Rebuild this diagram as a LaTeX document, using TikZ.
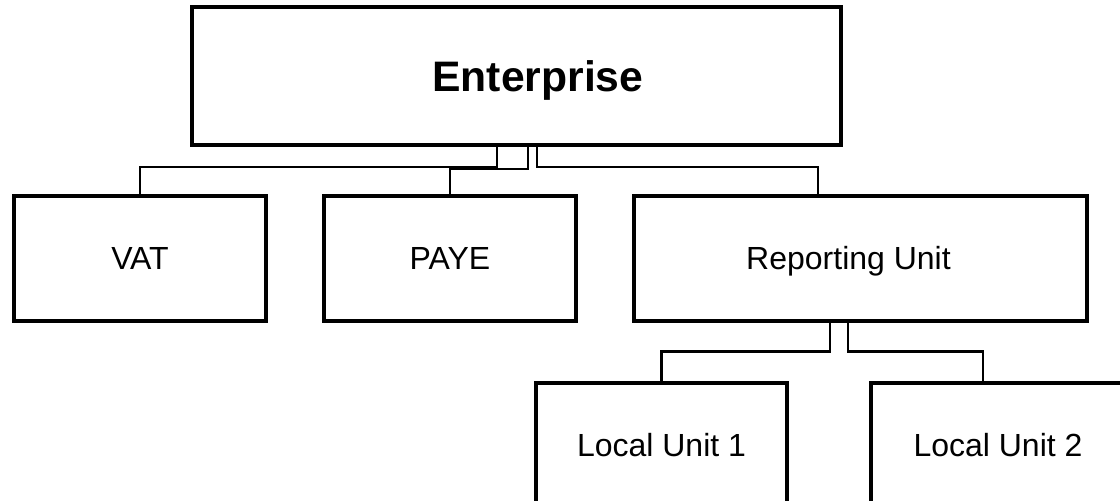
\documentclass[tikz,border=0pt]{standalone}
\usepackage{fontspec}
\setmainfont{Liberation Sans}
\usetikzlibrary{calc}
\begin{document}
\begin{tikzpicture}[x=0.75pt,y=-0.75pt,
  box/.style={draw=black, line width=3pt, fill=white, inner sep=0pt,
    minimum width=189pt, minimum height=93.75pt,
    text height=17.2pt, text depth=0pt,
    font=\fontsize{24}{29}\selectfont},
  link/.style={draw=black, line width=1.6pt}]
\clip (0,0) rectangle (1120,500);
\node[box, minimum width=486.75pt, minimum height=103.5pt, text height=22.9pt,
  font=\bfseries\fontsize{32}{38}\selectfont] (ent) at (516.5,76) {\hspace*{32pt}Enterprise};
\node[box] (vat) at (140,258.5) {VAT};
\node[box] (paye) at (450,258.5) {PAYE};
\node[box, minimum width=339.75pt] (ru) at (860.5,258.5) {Reporting Unit\hspace*{18pt}};
\node[box, minimum width=188.25pt] (lu1) at (661.5,445.5) {Local Unit 1};
\node[box, minimum width=190.5pt] (lu2) at (998,445.5) {Local Unit 2};
\draw[link] ($(ent.south)+(-19.5,0)$) -- ++(0,20) -| (vat.north);
\draw[link] ($(ent.south)+(11.5,0)$) -- ++(0,22) -| (paye.north);
\draw[link] ($(ent.south)+(20.5,0)$) -- ++(0,20) -| ($(ru.north)+(-42.5,0)$);
\draw[link] ($(ru.south)+(-30.5,0)$) -- ++(0,28.5) -| (lu1.north);
\draw[link] ($(ru.south)+(-12.5,0)$) -- ++(0,28.5) -| ($(lu2.north)+(-15,0)$);
\end{tikzpicture}
\end{document}
